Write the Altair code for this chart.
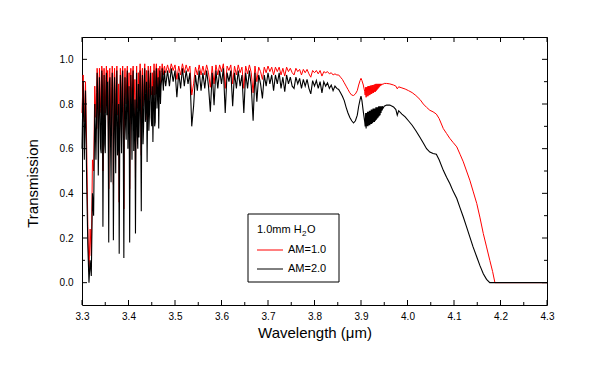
import altair as alt
import pandas as pd

# ---------------- data ----------------
# dense absorption region 3.30-3.48 um
wl_a = [3.3000, 3.3025, 3.3050, 3.3075, 3.3100, 3.3125, 3.3150, 3.3175, 3.3200, 3.3225,
        3.3250, 3.3275, 3.3300, 3.3325, 3.3350, 3.3375, 3.3400, 3.3425, 3.3450, 3.3475,
        3.3500, 3.3525, 3.3550, 3.3575, 3.3600, 3.3625, 3.3650, 3.3675, 3.3700, 3.3725,
        3.3750, 3.3775, 3.3800, 3.3825, 3.3850, 3.3875, 3.3900, 3.3925, 3.3950, 3.3975,
        3.4000, 3.4025, 3.4050, 3.4075, 3.4100, 3.4125, 3.4150, 3.4175, 3.4200, 3.4225,
        3.4250, 3.4275, 3.4300, 3.4325, 3.4350, 3.4375, 3.4400, 3.4425, 3.4450, 3.4475,
        3.4500, 3.4525, 3.4550, 3.4575, 3.4600, 3.4625, 3.4650, 3.4675, 3.4700, 3.4725,
        3.4750, 3.4775, 3.4800]
am2_a = [0.60, 0.90, 0.55, 0.86, 0.46, 0.17, 0.00, 0.10, 0.03, 0.40,
         0.30, 0.80, 0.55, 0.94, 0.48, 0.92, 0.60, 0.95, 0.25, 0.93,
         0.58, 0.94, 0.90, 0.18, 0.92, 0.45, 0.94, 0.19, 0.92, 0.49,
         0.95, 0.62, 0.13, 0.93, 0.58, 0.95, 0.11, 0.92, 0.64, 0.95,
         0.78, 0.18, 0.93, 0.55, 0.95, 0.70, 0.22, 0.94, 0.60, 0.65,
         0.95, 0.32, 0.93, 0.70, 0.96, 0.80, 0.54, 0.95, 0.75, 0.94,
         0.70, 0.63, 0.95, 0.72, 0.96, 0.85, 0.69, 0.95, 0.88, 0.96,
         0.86, 0.95, 0.88]
am1_a = [0.76, 0.93, 0.72, 0.90, 0.62, 0.26, 0.05, 0.24, 0.12, 0.55,
         0.50, 0.88, 0.74, 0.96, 0.69, 0.96, 0.78, 0.97, 0.50, 0.96,
         0.76, 0.97, 0.95, 0.42, 0.96, 0.67, 0.97, 0.44, 0.96, 0.70,
         0.97, 0.79, 0.36, 0.96, 0.76, 0.97, 0.33, 0.96, 0.80, 0.97,
         0.88, 0.42, 0.96, 0.74, 0.97, 0.84, 0.47, 0.97, 0.78, 0.81,
         0.98, 0.57, 0.96, 0.84, 0.98, 0.89, 0.73, 0.97, 0.87, 0.97,
         0.84, 0.79, 0.98, 0.85, 0.98, 0.92, 0.83, 0.97, 0.94, 0.98,
         0.93, 0.97, 0.94]

# extra weaker lines lying between the samples above (3.33-3.48 um)
wl_a2 = [3.33125, 3.33375, 3.33625, 3.33875, 3.34125, 3.34375, 3.34625, 3.34875, 3.35125, 3.35375,
         3.35625, 3.35875, 3.36125, 3.36375, 3.36625, 3.36875, 3.37125, 3.37375, 3.37625, 3.37875,
         3.38125, 3.38375, 3.38625, 3.38875, 3.39125, 3.39375, 3.39625, 3.39875, 3.40125, 3.40375,
         3.40625, 3.40875, 3.41125, 3.41375, 3.41625, 3.41875, 3.42125, 3.42375, 3.42625, 3.42875,
         3.43125, 3.43375, 3.43625, 3.43875, 3.44125, 3.44375, 3.44625, 3.44875, 3.45125, 3.45375,
         3.45625, 3.45875, 3.46125, 3.46375, 3.46625, 3.46875, 3.47125, 3.47375, 3.47625, 3.47875]
am2_a2 = [0.72, 0.85, 0.66, 0.80, 0.58, 0.88, 0.70, 0.62, 0.83, 0.75,
          0.68, 0.90, 0.64, 0.78, 0.86, 0.60, 0.72, 0.84, 0.57, 0.80,
          0.66, 0.74, 0.87, 0.62, 0.79, 0.70, 0.85, 0.60, 0.88, 0.67,
          0.78, 0.86, 0.59, 0.82, 0.73, 0.66, 0.89, 0.80, 0.70, 0.84,
          0.62, 0.88, 0.72, 0.90, 0.78, 0.68, 0.89, 0.74, 0.88, 0.80,
          0.70, 0.90, 0.78, 0.92, 0.86, 0.80, 0.91, 0.90, 0.93, 0.90]
am1_a2 = [0.85, 0.92, 0.81, 0.89, 0.76, 0.94, 0.84, 0.79, 0.91, 0.87,
          0.82, 0.95, 0.80, 0.88, 0.93, 0.77, 0.85, 0.92, 0.75, 0.89,
          0.81, 0.86, 0.93, 0.79, 0.89, 0.84, 0.92, 0.77, 0.94, 0.82,
          0.88, 0.93, 0.77, 0.91, 0.85, 0.81, 0.94, 0.89, 0.84, 0.92,
          0.79, 0.94, 0.85, 0.95, 0.88, 0.82, 0.94, 0.86, 0.94, 0.89,
          0.84, 0.95, 0.88, 0.96, 0.93, 0.89, 0.95, 0.95, 0.96, 0.95]

# weaker lines 3.48-3.86 um
wl_b = [3.484, 3.488, 3.492, 3.496, 3.500, 3.504, 3.508, 3.512, 3.516, 3.520,
        3.524, 3.528, 3.532, 3.536, 3.540, 3.544, 3.548, 3.552, 3.556, 3.560,
        3.564, 3.568, 3.572, 3.576, 3.580, 3.584, 3.588, 3.592, 3.596, 3.600,
        3.604, 3.608, 3.612, 3.616, 3.620, 3.624, 3.628, 3.632, 3.636, 3.640,
        3.644, 3.648, 3.652, 3.656, 3.660, 3.664, 3.668, 3.672, 3.676, 3.680,
        3.684, 3.688, 3.692, 3.696, 3.700, 3.704, 3.708, 3.712, 3.716, 3.720,
        3.724, 3.728, 3.732, 3.736, 3.740, 3.744, 3.748, 3.752, 3.756, 3.760,
        3.764, 3.768, 3.772, 3.776, 3.780, 3.784, 3.788, 3.792, 3.796, 3.800,
        3.804, 3.808, 3.812, 3.816, 3.820, 3.824, 3.828, 3.832, 3.836, 3.840,
        3.844, 3.848, 3.852, 3.856, 3.860]
am2_b = [0.95, 0.88, 0.96, 0.90, 0.95, 0.83, 0.94, 0.87, 0.96, 0.88,
         0.95, 0.89, 0.94, 0.70, 0.79, 0.93, 0.86, 0.95, 0.86, 0.94,
         0.87, 0.95, 0.88, 0.765, 0.94, 0.795, 0.95, 0.87, 0.95, 0.89,
         0.96, 0.76, 0.94, 0.90, 0.95, 0.79, 0.94, 0.87, 0.95, 0.88,
         0.93, 0.76, 0.94, 0.87, 0.95, 0.88, 0.725, 0.94, 0.81, 0.93,
         0.89, 0.825, 0.93, 0.88, 0.94, 0.89, 0.93, 0.86, 0.93, 0.89,
         0.94, 0.87, 0.92, 0.855, 0.93, 0.89, 0.92, 0.88, 0.87, 0.92,
         0.89, 0.915, 0.87, 0.91, 0.88, 0.91, 0.87, 0.845, 0.905, 0.88,
         0.905, 0.87, 0.90, 0.85, 0.90, 0.88, 0.895, 0.87, 0.885, 0.86,
         0.88, 0.87, 0.865, 0.85, 0.835]
am1_b = [0.975, 0.94, 0.98, 0.95, 0.975, 0.91, 0.97, 0.93, 0.98, 0.94,
         0.975, 0.945, 0.97, 0.84, 0.89, 0.965, 0.93, 0.975, 0.93, 0.97,
         0.93, 0.975, 0.94, 0.875, 0.97, 0.89, 0.975, 0.93, 0.975, 0.945,
         0.98, 0.87, 0.97, 0.95, 0.975, 0.89, 0.97, 0.93, 0.975, 0.94,
         0.965, 0.87, 0.97, 0.935, 0.975, 0.94, 0.85, 0.97, 0.90, 0.965,
         0.945, 0.91, 0.965, 0.94, 0.97, 0.945, 0.965, 0.93, 0.965, 0.945,
         0.965, 0.93, 0.96, 0.925, 0.965, 0.945, 0.96, 0.94, 0.93, 0.96,
         0.945, 0.955, 0.93, 0.955, 0.94, 0.955, 0.935, 0.92, 0.95, 0.94,
         0.95, 0.935, 0.95, 0.925, 0.945, 0.94, 0.945, 0.935, 0.94, 0.93,
         0.935, 0.93, 0.93, 0.92, 0.91]

# 3.86-3.95 um dip and band
wl_c = [3.864, 3.868, 3.872, 3.876, 3.880, 3.884, 3.888, 3.892, 3.895, 3.898,
        3.900, 3.902, 3.905, 3.908,
        3.909, 3.910, 3.911, 3.912, 3.913, 3.914, 3.915, 3.916, 3.917, 3.918,
        3.919, 3.920, 3.921, 3.922, 3.923, 3.924, 3.925, 3.926, 3.927, 3.928,
        3.929, 3.930, 3.931, 3.932, 3.933, 3.934, 3.935, 3.936, 3.937, 3.938,
        3.939, 3.940, 3.941, 3.942, 3.943, 3.944, 3.945, 3.946, 3.947, 3.950]
am2_c = [0.815, 0.785, 0.76, 0.74, 0.725, 0.715, 0.725, 0.75, 0.79, 0.82,
         0.835, 0.815, 0.765, 0.72,
         0.70, 0.76, 0.69, 0.76, 0.70, 0.765, 0.70, 0.765, 0.705, 0.77,
         0.705, 0.77, 0.71, 0.775, 0.71, 0.775, 0.715, 0.78, 0.72, 0.78,
         0.72, 0.78, 0.725, 0.785, 0.73, 0.785, 0.735, 0.785, 0.74, 0.79,
         0.745, 0.79, 0.75, 0.79, 0.76, 0.79, 0.77, 0.79, 0.78, 0.79]
am1_c = [0.895, 0.88, 0.865, 0.85, 0.84, 0.838, 0.845, 0.86, 0.885, 0.905,
         0.915, 0.905, 0.885, 0.855,
         0.84, 0.875, 0.83, 0.875, 0.835, 0.878, 0.835, 0.88, 0.84, 0.88,
         0.84, 0.882, 0.845, 0.882, 0.845, 0.885, 0.85, 0.885, 0.85, 0.886,
         0.855, 0.888, 0.855, 0.89, 0.86, 0.89, 0.865, 0.89, 0.87, 0.89,
         0.875, 0.89, 0.88, 0.89, 0.883, 0.89, 0.886, 0.89, 0.888, 0.892]

# smooth cut-off 3.95-4.30 um
wl_d = [3.955, 3.962, 3.970, 3.975, 3.978, 3.981, 3.988, 3.995, 4.002, 4.010,
        4.018, 4.027, 4.034, 4.041, 4.048, 4.055, 4.062, 4.068, 4.077, 4.084,
        4.091, 4.098, 4.106, 4.113, 4.120, 4.127, 4.134, 4.141, 4.149, 4.156,
        4.163, 4.170, 4.177, 4.183, 4.188, 4.300]
am2_d = [0.795, 0.795, 0.787, 0.775, 0.75, 0.77, 0.755, 0.742, 0.725, 0.705,
         0.68, 0.65, 0.625, 0.60, 0.585, 0.578, 0.575, 0.55, 0.503, 0.472,
         0.444, 0.41, 0.377, 0.335, 0.294, 0.25, 0.205, 0.16, 0.115, 0.075,
         0.04, 0.015, 0.0, 0.0, 0.0, 0.0]
am1_d = [0.892, 0.89, 0.885, 0.88, 0.868, 0.877, 0.872, 0.867, 0.86, 0.851,
         0.838, 0.82, 0.80, 0.785, 0.772, 0.765, 0.755, 0.735, 0.69, 0.668,
         0.646, 0.628, 0.608, 0.575, 0.541, 0.50, 0.459, 0.41, 0.354, 0.29,
         0.22, 0.16, 0.10, 0.05, 0.0, 0.0]

x_major = [3.3, 3.4, 3.5, 3.6, 3.7, 3.8, 3.9, 4.0, 4.1, 4.2, 4.3]
x_minor = [3.35, 3.45, 3.55, 3.65, 3.75, 3.85, 3.95, 4.05, 4.15, 4.25]
y_major = [0.0, 0.2, 0.4, 0.6, 0.8, 1.0]
y_minor = [0.1, 0.3, 0.5, 0.7, 0.9]

legend_title = "1.0mm H"
legend_labels = ["AM=1.0", "AM=2.0"]

# ---------------- chart ----------------
wl = wl_a + wl_a2 + wl_b + wl_c + wl_d
am1 = am1_a + am1_a2 + am1_b + am1_c + am1_d
am2 = am2_a + am2_a2 + am2_b + am2_c + am2_d

df1 = pd.DataFrame({"lam": wl, "T": am1}).sort_values("lam")
df2 = pd.DataFrame({"lam": wl, "T": am2}).sort_values("lam")

FONT = "Liberation Sans"
W, H = 465, 268
XS = alt.Scale(domain=[3.3, 4.3], nice=False, zero=False)
YS = alt.Scale(domain=[-0.1, 1.1], nice=False, zero=False)

x_axis = alt.Axis(title="Wavelength (\u03bcm)", values=x_major, format=".1f", grid=False,
                  domain=False, ticks=False, labelFont=FONT, labelFontSize=10,
                  labelPadding=6, labelFlush=False, labelOverlap=False, labelColor="black",
                  titleFont=FONT, titleFontSize=15, titleFontWeight="normal",
                  titleColor="black", titleY=32, titleBaseline="alphabetic")
y_axis = alt.Axis(title="Transmission", values=y_major, format=".1f", grid=False,
                  domain=False, ticks=False, labelFont=FONT, labelFontSize=10,
                  labelPadding=9, labelColor="black",
                  titleFont=FONT, titleFontSize=15, titleFontWeight="normal",
                  titleColor="black", titleAngle=-90, titleX=-42, titleY=146,
                  titleAlign="center", titleBaseline="bottom")

red = alt.Chart(df1).mark_line(color="#ff0000", strokeWidth=1).encode(
    x=alt.X("lam:Q", scale=XS, axis=x_axis),
    y=alt.Y("T:Q", scale=YS, axis=y_axis),
)
black = alt.Chart(df2).mark_line(color="#000000", strokeWidth=1.1).encode(
    x=alt.X("lam:Q", scale=XS),
    y=alt.Y("T:Q", scale=YS),
)

def xticks(vals, y0, y1):
    return alt.Chart(pd.DataFrame({"lam": vals})).mark_rule(color="black", strokeWidth=1).encode(
        x=alt.X("lam:Q", scale=XS), y=alt.value(y0), y2=alt.value(y1))

def yticks(vals, x0, x1):
    return alt.Chart(pd.DataFrame({"T": vals})).mark_rule(color="black", strokeWidth=1).encode(
        y=alt.Y("T:Q", scale=YS), x=alt.value(x0), x2=alt.value(x1))

ticks = [
    xticks(x_major, H, H - 5), xticks(x_minor, H, H - 3),
    xticks(x_major, 0, 5), xticks(x_minor, 0, 3),
    yticks(y_major, 0, 5), yticks(y_minor, 0, 3),
    yticks(y_major, W, W - 5), yticks(y_minor, W, W - 3),
]

one = pd.DataFrame({"k": [0]})
leg_box = alt.Chart(one).mark_rect(fill="white", stroke="black", strokeWidth=1).encode(
    x=alt.value(166), x2=alt.value(257), y=alt.value(177), y2=alt.value(245))
leg_t1 = alt.Chart(one).mark_text(text=legend_title, align="left", baseline="alphabetic",
                                  font=FONT, fontSize=11, color="black").encode(
    x=alt.value(175), y=alt.value(196))
leg_t2 = alt.Chart(one).mark_text(text="2", align="left", baseline="alphabetic",
                                  font=FONT, fontSize=8, color="black").encode(
    x=alt.value(220), y=alt.value(199))
leg_t3 = alt.Chart(one).mark_text(text="O", align="left", baseline="alphabetic",
                                  font=FONT, fontSize=11, color="black").encode(
    x=alt.value(225), y=alt.value(196))
leg_l1 = alt.Chart(one).mark_rule(color="#ff0000", strokeWidth=1).encode(
    x=alt.value(175), x2=alt.value(201), y=alt.value(213))
leg_l2 = alt.Chart(one).mark_rule(color="#000000", strokeWidth=1).encode(
    x=alt.value(175), x2=alt.value(201), y=alt.value(232))
leg_a1 = alt.Chart(one).mark_text(text=legend_labels[0], align="left", baseline="middle",
                                  font=FONT, fontSize=11, color="black").encode(
    x=alt.value(206), y=alt.value(213))
leg_a2 = alt.Chart(one).mark_text(text=legend_labels[1], align="left", baseline="middle",
                                  font=FONT, fontSize=11, color="black").encode(
    x=alt.value(206), y=alt.value(232))

chart = alt.layer(
    red, black, *ticks, leg_box, leg_t1, leg_t2, leg_t3, leg_l1, leg_l2, leg_a1, leg_a2
).properties(
    width=W, height=H,
    autosize=alt.AutoSizeParams(type="none"),
    padding={"left": 74, "top": 29, "right": 36, "bottom": 69},
    background="white",
).configure_view(stroke="black", strokeWidth=1)

chart.save("out.html", embed_options={"renderer": "svg", "actions": False})
